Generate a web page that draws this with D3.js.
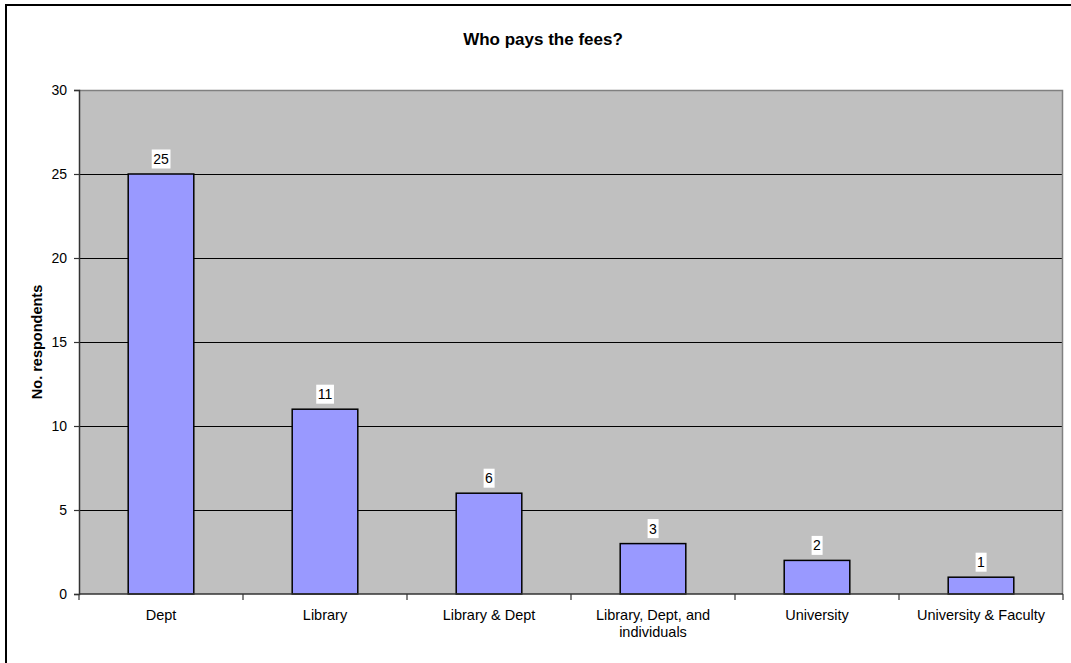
<!DOCTYPE html>
<html>
<head>
<meta charset="utf-8">
<script src="https://cdn.jsdelivr.net/npm/d3@7"></script>
<style>
  html, body { margin: 0; padding: 0; background: #fff; }
  svg { display: block; font-family: Arial, "Liberation Sans", sans-serif; }
</style>
</head>
<body>
<svg id="chart" width="1071" height="663"></svg>
<script>
const categories = ["Dept", "Library", "Library & Dept", "Library, Dept, and individuals", "University", "University & Faculty"];
const values = [25, 11, 6, 3, 2, 1];
const yTicks = [0, 5, 10, 15, 20, 25, 30];
const titleText = "Who pays the fees?";
const yTitle = "No. respondents";

const svg = d3.select("#chart");
const W = 1071, H = 663;
const plot = { left: 79, top: 90, right: 1063, bottom: 594 };

// outer chart border (top & left visible)
svg.append("line").attr("x1", 5).attr("x2", W).attr("y1", 5).attr("y2", 5)
  .attr("stroke", "#000").attr("stroke-width", 2);
svg.append("line").attr("x1", 6).attr("x2", 6).attr("y1", 4).attr("y2", H)
  .attr("stroke", "#000").attr("stroke-width", 2);

const x = d3.scaleBand().domain(categories)
  .range([plot.left, plot.right]).paddingInner(0.6).paddingOuter(0.3);
const xc = d3.scaleBand().domain(categories).range([plot.left, plot.right]).padding(0);
const y = d3.scaleLinear().domain([0, 30]).range([plot.bottom, plot.top]);

// plot background
svg.append("rect").attr("x", plot.left).attr("y", plot.top)
  .attr("width", plot.right - plot.left).attr("height", plot.bottom - plot.top)
  .attr("fill", "#C0C0C0");

// gridlines
svg.append("g").selectAll("line").data(yTicks.filter(d => d > 0 && d < 30)).join("line")
  .attr("x1", plot.left).attr("x2", plot.right)
  .attr("y1", d => Math.round(y(d)) + 0.5).attr("y2", d => Math.round(y(d)) + 0.5)
  .attr("stroke", "#000").attr("stroke-width", 1);

// plot border top/right
svg.append("path")
  .attr("d", `M${plot.left},${plot.top + 0.5}H${plot.right - 0.5}V${plot.bottom}`)
  .attr("fill", "none").attr("stroke", "#808080").attr("stroke-width", 1.5);

// bars
svg.append("g").selectAll("rect").data(values).join("rect")
  .attr("x", (d, i) => x(categories[i]))
  .attr("y", d => y(d))
  .attr("width", x.bandwidth())
  .attr("height", d => y(0) - y(d))
  .attr("fill", "#9999FF").attr("stroke", "#000").attr("stroke-width", 1.5);

// y axis
const yAxis = d3.axisLeft(y).tickValues(yTicks).tickSize(5).tickPadding(7);
const gy = svg.append("g").attr("transform", `translate(${plot.left},0)`).call(yAxis);
gy.select(".domain").attr("stroke", "#333").attr("stroke-width", 1.5);
gy.selectAll(".tick line").attr("stroke", "#333").attr("stroke-width", 1.2);
gy.selectAll(".tick text").attr("font-size", "14px").attr("fill", "#000")
  .attr("font-family", "Arial, 'Liberation Sans', sans-serif");

// x axis
const gx = svg.append("g").attr("transform", `translate(0,${plot.bottom})`);
gx.append("line").attr("x1", plot.left).attr("x2", plot.right).attr("y1", 0).attr("y2", 0)
  .attr("stroke", "#333").attr("stroke-width", 1.5);
const boundaries = categories.map(c => xc(c)).concat([plot.right]);
gx.selectAll("line.tk").data(boundaries).join("line").attr("class", "tk")
  .attr("x1", d => d).attr("x2", d => d).attr("y1", 0).attr("y2", 6)
  .attr("stroke", "#333").attr("stroke-width", 1.2);

const labelLines = {
  "Library, Dept, and individuals": ["Library, Dept, and", "individuals"]
};
gx.selectAll("text.cat").data(categories).join("text").attr("class", "cat")
  .attr("x", d => xc(d) + xc.bandwidth() / 2)
  .attr("y", 26)
  .attr("text-anchor", "middle").attr("font-size", "14.5px").attr("fill", "#000")
  .each(function (d) {
    const lines = labelLines[d] || [d];
    d3.select(this).selectAll("tspan").data(lines).join("tspan")
      .attr("x", xc(d) + xc.bandwidth() / 2)
      .attr("dy", (l, i) => i === 0 ? 0 : 17)
      .text(l => l);
  });

// data labels
const lbl = svg.append("g").selectAll("g").data(values).join("g")
  .attr("transform", (d, i) => `translate(${x(categories[i]) + x.bandwidth() / 2},${y(d) - 10})`);
lbl.append("text").attr("text-anchor", "middle").attr("font-size", "14px")
  .attr("fill", "#000").text(d => d)
  .each(function () {
    const bb = this.getBBox();
    d3.select(this.parentNode).insert("rect", "text")
      .attr("x", bb.x - 1.5).attr("y", bb.y - 1.5)
      .attr("width", bb.width + 3).attr("height", bb.height + 3)
      .attr("fill", "#fff");
  });

// title
svg.append("text").attr("x", 543).attr("y", 45).attr("text-anchor", "middle")
  .attr("font-size", "17px").attr("font-weight", "bold").text(titleText);

// y title
svg.append("text").attr("transform", `translate(42,${(plot.top + plot.bottom) / 2}) rotate(-90)`)
  .attr("text-anchor", "middle").attr("font-size", "14.5px").attr("font-weight", "bold")
  .text(yTitle);
</script>
</body>
</html>
